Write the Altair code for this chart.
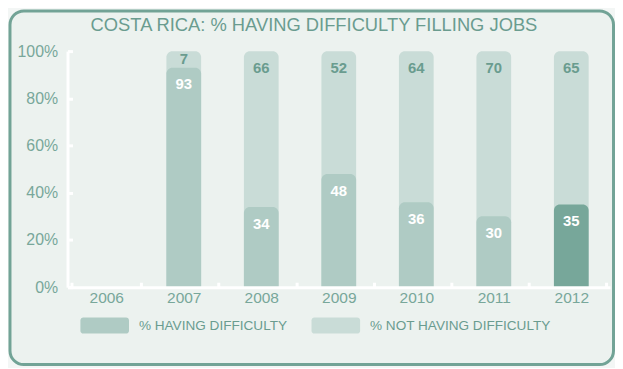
import altair as alt
import pandas as pd

# ---- data ----
years_all = ["2006", "2007", "2008", "2009", "2010", "2011", "2012"]
years = ["2007", "2008", "2009", "2010", "2011", "2012"]
having = [93, 34, 48, 36, 30, 35]
not_having = [7, 66, 52, 64, 70, 65]
series_names = ["% HAVING DIFFICULTY", "% NOT HAVING DIFFICULTY"]
y_ticks = [0, 20, 40, 60, 80, 100]
title_text = "COSTA RICA: % HAVING DIFFICULTY FILLING JOBS"
highlight_year = "2012"

df = pd.DataFrame({"year": years, "having": having, "not": not_having})

# ---- style ----
FONT = "Liberation Sans"
BG_OUT = "#f3f6f5"
BG_IN = "#ecf2ef"
FRAME = "#72a396"
LIGHT = "#c9dcd7"
MID = "#afcbc4"
DARK = "#77a79a"
TEAL_TXT = "#6a9c8f"
AXIS_TXT = "#78a79a"
W, H = 547, 238

color_scale = alt.Scale(domain=series_names, range=[MID, LIGHT])

base = alt.Chart(df)

x_enc = alt.X(
    "year:O",
    scale=alt.Scale(domain=years_all),
    axis=alt.Axis(
        title=None, labelAngle=0, labelFontSize=15.6, labelColor=AXIS_TXT,
        labelFont=FONT, domainColor="white", domainWidth=3,
        tickColor="white", tickWidth=3, tickSize=alt.ExprRef("-5"),
        tickBand="extent", labelPadding=8, zindex=1, grid=False,
    ),
)

y_scale = alt.Scale(domain=[0, 100], nice=False)
y_axis = alt.Axis(
    title=None, values=y_ticks, labelExpr="datum.value + '%'",
    labelFontSize=16, labelColor=AXIS_TXT, labelFont=FONT,
    domainColor="white", domainWidth=3, tickColor="white", tickWidth=3,
    tickSize=alt.ExprRef("-5"), labelPadding=15, zindex=1, grid=False,
)

frame = alt.Chart(alt.Data(values=[{}])).mark_rect(
    fill=BG_IN, stroke=FRAME, strokeWidth=3, cornerRadius=14
).encode(
    x=alt.value(-58), x2=alt.value(W + 3.5),
    y=alt.value(-40.5), y2=alt.value(H + 78),
)

title = alt.Chart(alt.Data(values=[{"t": title_text}])).mark_text(
    fontSize=18.5, color=TEAL_TXT, font=FONT, baseline="middle", align="center"
).encode(
    x=alt.value(W / 2 - 25), y=alt.value(-26), text="t:N",
)

legend_path = ("M-0.88,-0.33 H0.88 A0.12,0.12 0 0 1 1,-0.21 V0.21 "
               "A0.12,0.12 0 0 1 0.88,0.33 H-0.88 A0.12,0.12 0 0 1 -1,0.21 "
               "V-0.21 A0.12,0.12 0 0 1 -0.88,-0.33 Z")

legend = alt.Legend(
    title=None, orient="none", legendX=13, legendY=252, direction="horizontal",
    columns=2, symbolType=legend_path, symbolSize=2401, symbolStrokeWidth=0,
    labelFontSize=13.7, labelColor=TEAL_TXT, labelFont=FONT, labelOffset=10,
    columnPadding=24, padding=0, labelLimit=300,
)

bg_bars = base.transform_calculate(
    total="datum.having + datum.not", series="'" + series_names[1] + "'"
).mark_bar(size=35, cornerRadiusTopLeft=6, cornerRadiusTopRight=6).encode(
    x=x_enc,
    y=alt.Y("total:Q", stack=None, scale=y_scale, axis=y_axis),
    color=alt.Color("series:N", scale=color_scale, legend=legend),
)

fg_bars = base.transform_calculate(
    series="'" + series_names[0] + "'"
).mark_bar(size=35, cornerRadiusTopLeft=6, cornerRadiusTopRight=6).encode(
    x=x_enc,
    y=alt.Y("having:Q", stack=None, scale=y_scale),
    color=alt.condition(
        alt.datum.year == highlight_year,
        alt.value(DARK),
        alt.Color("series:N", scale=color_scale, legend=legend),
    ),
)

txt_not = base.transform_calculate(
    ly="max(92.9, (100 + datum.having) / 2)"
).mark_text(fontSize=15, fontWeight="bold", color=TEAL_TXT, font=FONT,
            baseline="middle").encode(
    x=x_enc, y=alt.Y("ly:Q", scale=y_scale), text="not:Q",
)

txt_h = base.transform_calculate(
    ly="datum.having - 7.1"
).mark_text(fontSize=15, fontWeight="bold", color="white", font=FONT,
            baseline="middle").encode(
    x=x_enc, y=alt.Y("ly:Q", scale=y_scale), text="having:Q",
)

chart = alt.layer(frame, title, bg_bars, fg_bars, txt_not, txt_h).properties(
    width=W, height=H,
    background=BG_OUT,
    padding=0,
).configure_view(stroke=None)

chart.save("out.html", embed_options={"renderer": "svg", "actions": False})
